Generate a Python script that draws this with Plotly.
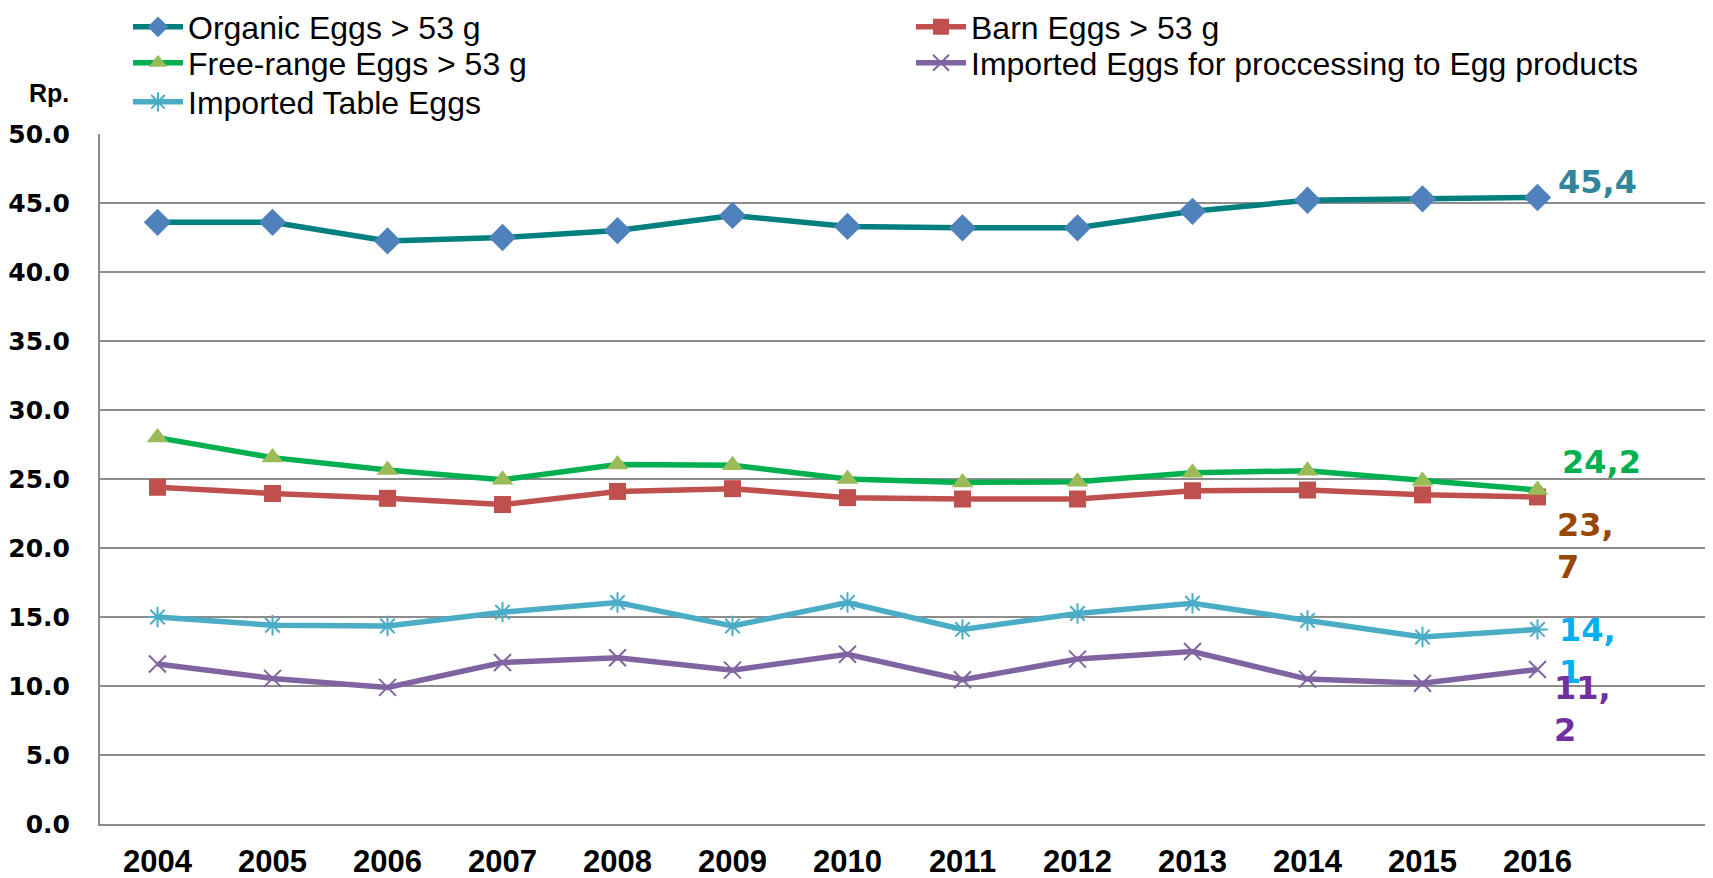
import plotly.graph_objects as go

years = [2004, 2005, 2006, 2007, 2008, 2009, 2010, 2011, 2012, 2013, 2014, 2015, 2016]

organic = [43.6, 43.6, 42.25, 42.5, 43.0, 44.1, 43.3, 43.2, 43.2, 44.4, 45.2, 45.3, 45.4]
barn = [24.4, 23.95, 23.6, 23.15, 24.1, 24.3, 23.65, 23.55, 23.55, 24.15, 24.2, 23.85, 23.7]
free_range = [28.0, 26.55, 25.65, 24.95, 26.05, 26.0, 25.0, 24.75, 24.8, 25.45, 25.6, 24.85, 24.2]
imp_processing = [11.6, 10.55, 9.9, 11.7, 12.05, 11.15, 12.3, 10.45, 11.95, 12.5, 10.5, 10.2, 11.2]
imp_table = [15.0, 14.4, 14.35, 15.35, 16.05, 14.35, 16.05, 14.1, 15.25, 16.0, 14.75, 13.55, 14.1]

y_ticks = [0, 5, 10, 15, 20, 25, 30, 35, 40, 45, 50]

# name, values, line colour, symbol, marker colour, marker size, legend row
series = [
    ("Organic Eggs > 53 g", organic, "#007F7F", "diamond", "#4F81BD", 21, "legend"),
    ("Barn Eggs > 53 g", barn, "#C0504D", "square", "#C0504D", 17, "legend"),
    ("Free-range Eggs > 53 g", free_range, "#00B050", "triangle-up", "#9BBB59", 19, "legend2"),
    ("Imported Eggs for proccessing to Egg products", imp_processing, "#8064A2", "x-thin-open", "#8064A2", 17, "legend2"),
    ("Imported Table Eggs", imp_table, "#4BACC6", "asterisk-open", "#4BACC6", 17, "legend3"),
]

fig = go.Figure()
for name, vals, lc, sym, mc, ms, lg in series:
    open_sym = sym.endswith("open")
    fig.add_trace(go.Scatter(
        x=years, y=vals, name=name, mode="lines+markers", legend=lg,
        line=dict(color=lc, width=5.5),
        marker=dict(symbol=sym, size=ms, color=mc,
                    line=dict(color=mc, width=2 if open_sym else 0)),
    ))

def fmt(v):
    return f"{v:.1f}".replace(".", ",")

# end-of-series data labels (last value of each series)
labels = [
    (organic[-1], fmt(organic[-1]), "#31859C", 18, 15),
    (free_range[-1], fmt(free_range[-1]), "#00B050", 22, 28),
    (barn[-1], fmt(barn[-1]).replace(",", ",<br>"), "#974706", 17, -49),
    (imp_table[-1], fmt(imp_table[-1]).replace(",", ",<br>"), "#00B0F0", 19, -22),
    (imp_processing[-1], fmt(imp_processing[-1]).replace(",", ",<br>"), "#7030A0", 14, -40),
]
for v, txt, col, xs, ys in labels:
    fig.add_annotation(
        x=years[-1], y=v, xref="x", yref="y", text=txt, showarrow=False,
        xanchor="left", yanchor="middle", align="left", xshift=xs, yshift=ys,
        font=dict(family="DejaVu Sans", size=32, color=col, weight="bold"),
    )

# the page body adds an 8px offset; figure coordinates are page coordinates - 8
OFF = 8
W, H = 1713 - OFF, 878 - OFF
L, R, T, B = 100 - OFF, 1710 - OFF, 134 - OFF, 824 - OFF
PW, PH = R - L, B - T

def px(xp):
    return (xp - OFF - L) / PW

def py(yp):
    return (B - (yp - OFF)) / PH

fig.add_annotation(
    x=px(49), y=py(93), xref="paper", yref="paper",
    xanchor="center", yanchor="middle",
    text="Rp.", showarrow=False,
    font=dict(family="Liberation Sans", size=25, color="black", weight="bold"),
)

legend_common = dict(
    orientation="h", xanchor="left", yanchor="middle", yref="paper",
    entrywidth=718, itemwidth=50,
    font=dict(family="Liberation Sans", size=32, color="black"),
    bgcolor="rgba(0,0,0,0)",
)

fig.update_layout(
    width=W, height=H,
    margin=dict(l=L, r=W - R, t=T, b=H - B, autoexpand=False),
    paper_bgcolor="white", plot_bgcolor="white",
    showlegend=True,
    legend=dict(x=px(128), y=py(27), **legend_common),
    legend2=dict(x=px(128), y=py(63), **legend_common),
    legend3=dict(x=px(128), y=py(102), **legend_common),
    xaxis=dict(
        range=[2003.5, 2017.5], tickvals=years, ticktext=[str(y) for y in years],
        showgrid=False, showline=True, linecolor="#8C8C8C", linewidth=2,
        ticks="", ticklabelstandoff=9,
        tickfont=dict(family="Liberation Sans", size=31, color="black", weight="bold"),
        zeroline=False,
    ),
    yaxis=dict(
        range=[0, 50], tickvals=y_ticks, tickformat=".1f",
        showgrid=True, gridcolor="#8C8C8C", gridwidth=2,
        showline=True, linecolor="#8C8C8C", linewidth=2,
        ticks="", ticklabelstandoff=23, zeroline=False,
        tickfont=dict(family="DejaVu Sans", size=25, color="black", weight="bold"),
    ),
)

fig.write_html("out.html")
